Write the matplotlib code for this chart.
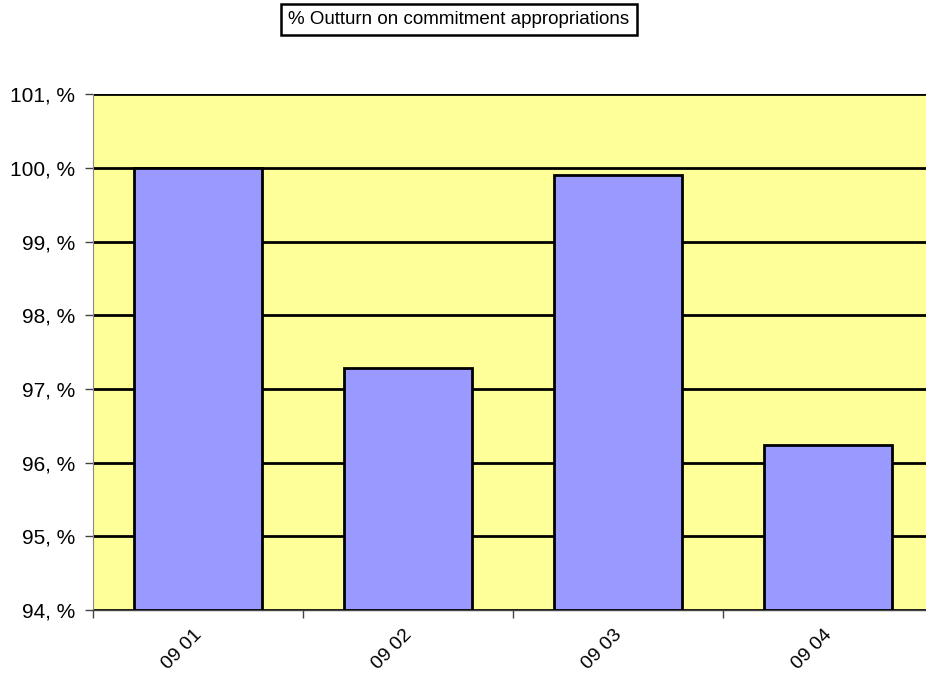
import matplotlib
matplotlib.use("Agg")
import matplotlib.pyplot as plt
import matplotlib.transforms as mtransforms
import numpy as np

plt.rcParams['font.family'] = ['Liberation Sans', 'DejaVu Sans']

categories = ["09 01", "09 02", "09 03", "09 04"]
outturn_pct = [100.0, 97.29, 99.90, 96.24]
y_ticks = [94, 95, 96, 97, 98, 99, 100, 101]
y_tick_labels = ["94, %", "95, %", "96, %", "97, %", "98, %", "99, %", "100, %", "101, %"]
title = "% Outturn on commitment appropriations"

fig = plt.figure(figsize=(9.26, 6.75), dpi=100)
ax = fig.add_axes([93 / 926, 1 - 610 / 675, 840 / 926, (610 - 94.3) / 675])
ax.set_facecolor("#FFFF99")

x = np.arange(len(categories))
ax.bar(x, [v - 94 for v in outturn_pct], bottom=94, width=0.605,
       color="#9999FF", edgecolor="black", linewidth=2, zorder=3)

ax.set_xlim(-0.5, len(categories) - 0.5)
ax.set_ylim(94, 101)

ax.set_yticks(y_ticks)
ax.set_yticklabels(y_tick_labels, fontsize=15)
ax.yaxis.grid(True, color="black", linewidth=2, zorder=1)
ax.set_axisbelow(True)

# category labels: rotated 45 degrees, hanging below each category centre
ax.set_xticks(np.arange(len(categories) + 1) - 0.5)
ax.set_xticklabels([])
ax.tick_params(axis="x", length=6, color="#444444", width=1)
label_tf = ax.get_xaxis_transform() + mtransforms.ScaledTranslation(
    -5 / 100, -16 / 100, fig.dpi_scale_trans)
for xi, cat in zip(x, categories):
    ax.text(xi, 0, cat, transform=label_tf, fontsize=14, rotation=45,
            ha="right", va="top", rotation_mode="anchor")

ax.tick_params(axis="y", length=6, color="#444444", width=1, pad=7)

for side in ("top", "right"):
    ax.spines[side].set_visible(False)
ax.spines["left"].set_color("#888888")
ax.spines["left"].set_linewidth(0.8)
ax.spines["bottom"].set_color("#444444")
ax.spines["bottom"].set_linewidth(1)

fig.text(459 / 926, 1 - 19.5 / 675, title, fontsize=13.5, ha="center", va="center",
         bbox=dict(boxstyle="square,pad=0.38", facecolor="white", edgecolor="black", linewidth=1.8))

fig.savefig("out.png", dpi=100)
